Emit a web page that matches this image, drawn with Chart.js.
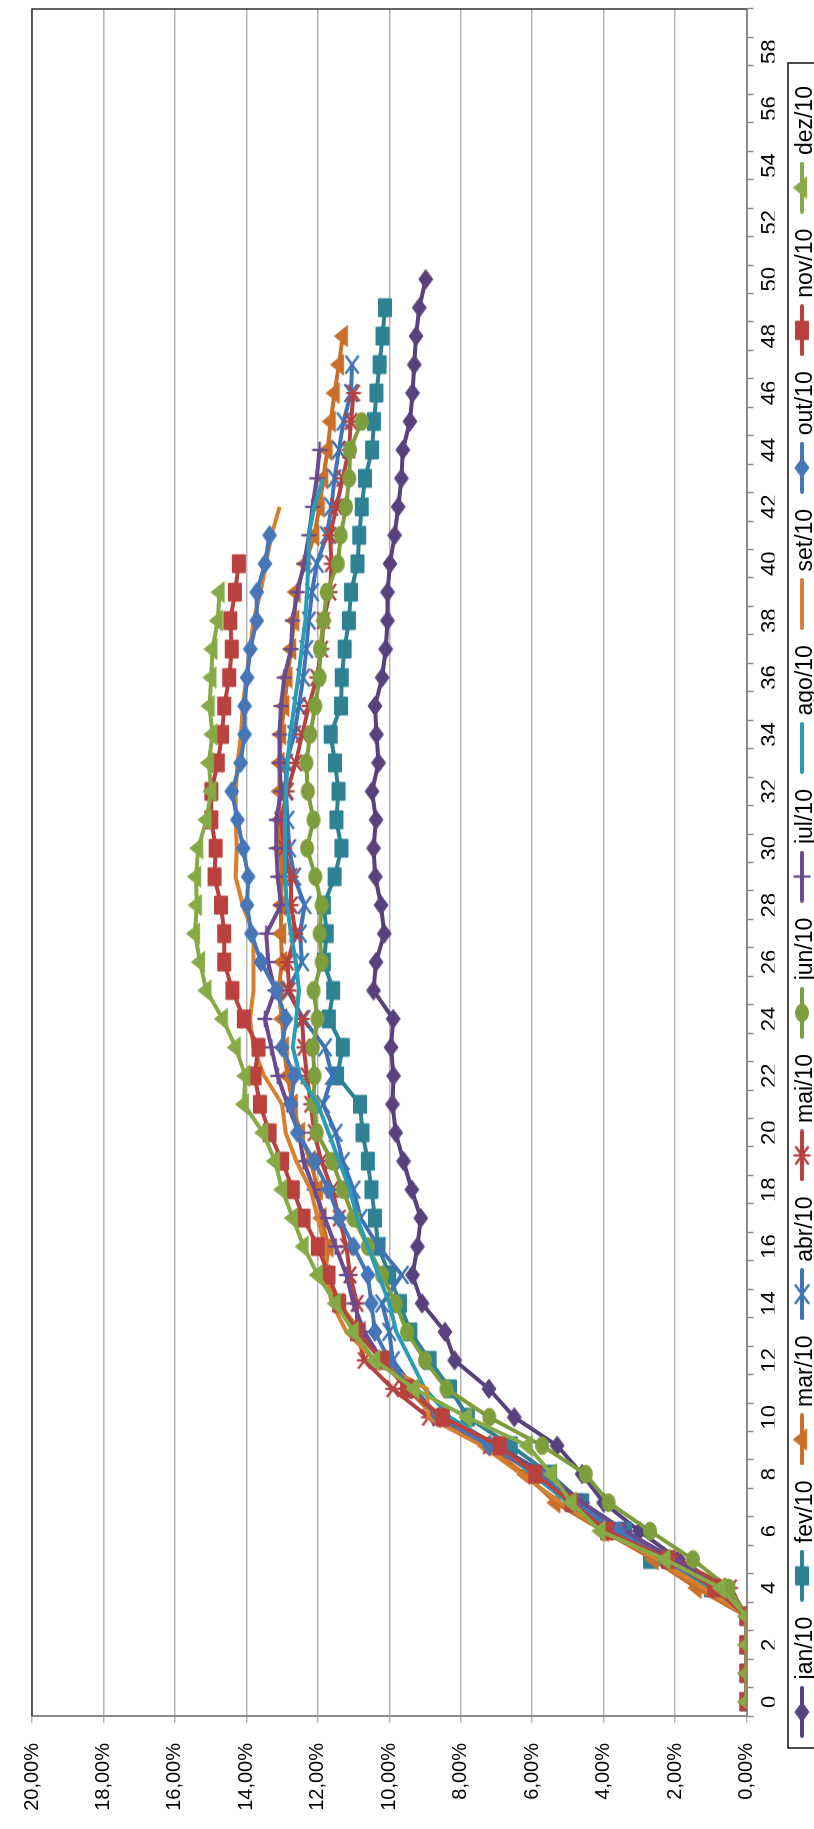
<!DOCTYPE html>
<html>
<head>
<meta charset="utf-8">
<script src="https://cdn.jsdelivr.net/npm/chart.js@4.4.1/dist/chart.umd.min.js"></script>
<style>
html, body { margin: 0; padding: 0; width: 814px; height: 1829px; overflow: hidden; background: #fff; }
/* chart is laid out landscape, then turned a quarter to the left */
#wrap { position: absolute; left: 0; top: 0; width: 1829px; height: 840px; transform-origin: 0 0; transform: matrix(0, -1, 1, 0, 0, 1829); }
</style>
</head>
<body>
<div id="wrap"><canvas id="chart" width="1829" height="840"></canvas></div>
<script>
const weeks = [0, 1, 2, 3, 4, 5, 6, 7, 8, 9, 10, 11, 12, 13, 14, 15, 16, 17, 18, 19,
    20, 21, 22, 23, 24, 25, 26, 27, 28, 29, 30, 31, 32, 33, 34, 35, 36, 37, 38, 39,
    40, 41, 42, 43, 44, 45, 46, 47, 48, 49, 50, 51, 52, 53, 54, 55, 56, 57, 58, 59];

const jan = [0, 0, 0, 0, 0.6, 1.9, 3.0, 4.0, 4.6, 5.3, 6.5, 7.21, 8.17, 8.44, 9.08, 9.35, 9.21, 9.12, 9.37, 9.6,
    9.82, 9.91, 9.88, 9.95, 9.89, 10.44, 10.37, 10.14, 10.23, 10.39, 10.44, 10.37, 10.48, 10.3, 10.36, 10.4, 10.2, 10.1, 10.05, 10.05,
    9.98, 9.85, 9.75, 9.66, 9.62, 9.42, 9.35, 9.3, 9.25, 9.16, 8.98];
const fev = [0, 0, 0, 0, 1.0, 2.7, 3.4, 4.6, 5.5, 6.6, 7.8, 8.3, 8.87, 9.41, 9.7, 10.0, 10.3, 10.4, 10.5, 10.6,
    10.75, 10.82, 11.46, 11.3, 11.69, 11.57, 11.83, 11.75, 11.83, 11.53, 11.34, 11.48, 11.42, 11.52, 11.64, 11.35, 11.33, 11.25, 11.13, 11.07,
    10.89, 10.84, 10.77, 10.68, 10.48, 10.43, 10.36, 10.27, 10.19, 10.12];
const mar = [0, 0, 0, 0, 1.4, 2.6, 4.0, 5.35, 6.2, 7.3, 8.7, 9.5, 10.2, 10.8, 11.4, 11.8, 11.7, 11.9, 12.0, 12.2,
    12.5, 12.7, 12.85, 12.95, 13.0, 13.1, 13.0, 13.03, 13.03, 13.0, 13.05, 13.07, 13.07, 13.07, 13.03, 12.94, 12.85, 12.75, 12.66, 12.62,
    12.35, 12.1, 11.95, 11.85, 11.73, 11.64, 11.53, 11.41, 11.3];
const abr = [0, 0, 0, 0, 0.8, 2.2, 3.5, 4.8, 5.8, 7.0, 8.6, 9.3, 9.9, 10.0, 10.2, 9.65, 10.3, 10.8, 11.0, 11.3,
    11.5, 11.85, 11.6, 11.8, 12.4, 12.85, 12.44, 12.5, 12.37, 12.66, 12.8, 12.85, 12.89, 12.89, 12.66, 12.53, 12.41, 12.32, 12.25, 12.16,
    12.03, 11.75, 11.62, 11.53, 11.41, 11.28, 11.07, 11.04];
const mai = [0, 0, 0, 0, 0.45, 2.0, 3.6, 4.9, 5.9, 7.2, 8.9, 9.9, 10.7, 10.9, 10.9, 11.1, 11.2, 11.4, 11.6, 11.9,
    12.1, 12.2, 12.3, 12.39, 12.44, 12.8, 12.85, 12.62, 12.75, 12.75, 12.94, 13.03, 12.86, 12.62, 12.44, 12.25, 12.03, 11.89, 11.84, 11.66,
    11.62, 11.66, 11.48, 11.3, 11.13, 11.07, 11.0];
const jun = [0, 0, 0, 0, 0.5, 1.5, 2.7, 3.86, 4.5, 5.72, 7.2, 8.4, 9.0, 9.5, 9.82, 10.2, 10.6, 11.0, 11.3, 11.6,
    12.03, 12.12, 12.09, 12.14, 12.01, 12.12, 11.89, 11.95, 11.89, 12.07, 12.3, 12.12, 12.28, 12.32, 12.21, 12.07, 11.95, 11.94, 11.84, 11.75,
    11.44, 11.36, 11.21, 11.12, 11.1, 10.77];
const jul = [0, 0, 0, 0, 0.8, 2.0, 3.4, 4.6, 5.6, 7.0, 8.6, 9.36, 10.2, 10.7, 11.0, 11.2, 11.5, 11.8, 12.1, 12.4,
    12.53, 12.85, 13.12, 13.3, 13.48, 13.2, 13.39, 13.44, 13.03, 13.12, 13.16, 13.16, 13.03, 13.07, 13.07, 13.03, 12.94, 12.75, 12.71, 12.57,
    12.39, 12.25, 12.15, 12.03, 11.95];
const ago = [0, 0, 0, 0, 1.0, 2.4, 3.8, 5.0, 6.0, 7.0, 8.3, 9.0, 9.4, 9.8, 10.0, 10.3, 10.6, 10.9, 11.1, 11.4,
    11.7, 12.0, 12.5, 12.7, 12.6, 12.53, 12.62, 12.75, 12.86, 12.92, 12.92, 12.92, 12.89, 12.85, 12.77, 12.66, 12.55, 12.45, 12.35, 12.3,
    12.27, 12.25, 12.1, 11.85];
const set = [0, 0, 0, 0, 1.2, 2.5, 3.9, 5.2, 6.3, 7.4, 8.9, 8.95, 10.4, 11.2, 11.6, 11.8, 11.8, 12.0, 12.2, 12.6,
    12.9, 13.0, 13.5, 13.8, 13.9, 13.8, 13.8, 13.8, 14.1, 14.3, 14.27, 14.3, 14.3, 14.25, 14.15, 14.1, 14.0, 13.9, 13.8, 13.6,
    13.45, 13.3, 13.07];
const out = [0, 0, 0, 0, 0.9, 2.3, 3.6, 4.9, 5.8, 7.2, 8.6, 9.4, 10.0, 10.4, 10.5, 10.6, 11.0, 11.4, 11.7, 12.1,
    12.57, 12.75, 12.66, 13.0, 12.89, 13.16, 13.59, 13.86, 13.98, 13.95, 14.09, 14.25, 14.41, 14.16, 14.05, 14.05, 13.98, 13.89, 13.71, 13.71,
    13.48, 13.35];
const nov = [0, 0, 0, 0, 0.9, 2.18, 3.9, 4.9, 5.91, 6.91, 8.5, 9.5, 10.2, 10.9, 11.4, 11.7, 12.0, 12.4, 12.7, 13.0,
    13.35, 13.62, 13.77, 13.66, 14.07, 14.39, 14.62, 14.62, 14.71, 14.89, 14.86, 14.98, 14.98, 14.8, 14.68, 14.62, 14.48, 14.41, 14.45, 14.32,
    14.21];
const dez = [0, 0, 0, 0, 0.72, 2.27, 4.09, 4.9, 5.45, 6.13, 7.82, 9.3, 10.4, 11.0, 11.5, 12.0, 12.4, 12.7, 13.0, 13.2,
    13.53, 14.07, 14.03, 14.3, 14.66, 15.12, 15.3, 15.44, 15.39, 15.41, 15.35, 15.12, 14.98, 15.05, 14.95, 15.03, 14.98, 14.95, 14.8, 14.75];

const names = ["jan/10", "fev/10", "mar/10", "abr/10", "mai/10", "jun/10", "jul/10", "ago/10", "set/10", "out/10", "nov/10", "dez/10"];
const values = [jan, fev, mar, abr, mai, jun, jul, ago, set, out, nov, dez];
const colors = ["#57427e", "#2e8294", "#c8702a", "#3f73b5", "#b54140", "#7e9e3e",
    "#6a4b91", "#2b9cb5", "#d7802f", "#4676b6", "#b9423f", "#86aa45"];
const markers = ["diamond", "square", "triangle", "x", "star", "circle", "plus", null, null, "diamond", "square", "triangle"];

const STRETCH = 1.38; // markers in the picture are drawn wider along the category axis

function shape(ctx, kind, r) {
    ctx.beginPath();
    if (kind === "diamond") {
        ctx.moveTo(0, -r); ctx.lineTo(r, 0); ctx.lineTo(0, r); ctx.lineTo(-r, 0); ctx.closePath();
    } else if (kind === "square") {
        ctx.rect(-r, -r, 2 * r, 2 * r);
    } else if (kind === "circle") {
        ctx.arc(0, 0, r, 0, Math.PI * 2);
    } else if (kind === "triangle") {
        ctx.moveTo(0, -r); ctx.lineTo(r * 0.9, r * 0.55); ctx.lineTo(-r * 0.9, r * 0.55); ctx.closePath();
    } else if (kind === "x") {
        ctx.moveTo(-r, -r); ctx.lineTo(r, r); ctx.moveTo(-r, r); ctx.lineTo(r, -r);
    } else if (kind === "star") {
        ctx.moveTo(-r * 0.8, -r * 0.8); ctx.lineTo(r * 0.8, r * 0.8); ctx.moveTo(-r * 0.8, r * 0.8); ctx.lineTo(r * 0.8, -r * 0.8);
        ctx.moveTo(0, -r); ctx.lineTo(0, r);
    } else if (kind === "plus") {
        ctx.moveTo(0, -r); ctx.lineTo(0, r); ctx.moveTo(-r * 0.8, 0); ctx.lineTo(r * 0.8, 0);
    }
}

const sizes = { diamond: 7, square: 6.5, circle: 6.5, triangle: 8.5, x: 6.5, star: 7.5, plus: 7.5 };

function drawMarker(ctx, kind, color, cx, cy) {
    const thin = kind === "x" || kind === "star" || kind === "plus";
    ctx.save();
    ctx.translate(cx, cy);
    ctx.scale(STRETCH, 1);
    shape(ctx, kind, sizes[kind]);
    ctx.restore();
    ctx.fillStyle = color;
    ctx.strokeStyle = color;
    ctx.lineWidth = thin ? 2.4 : 1;
    if (!thin) ctx.fill();
    ctx.stroke();
}

function markerImage(kind, color) {
    const c = document.createElement("canvas");
    c.width = 32;
    c.height = 24;
    drawMarker(c.getContext("2d"), kind, color, 16, 12);
    return c;
}

// legend sample: line with marker, drawn a little above the text middle like the original
function legendImage(kind, color) {
    const c = document.createElement("canvas");
    c.width = 52;
    c.height = 32;
    const ctx = c.getContext("2d");
    ctx.strokeStyle = color;
    ctx.lineWidth = 4;
    ctx.lineCap = "round";
    ctx.beginPath();
    ctx.moveTo(2, 12);
    ctx.lineTo(50, 12);
    ctx.stroke();
    if (kind) drawMarker(ctx, kind, color, 26, 12);
    return c;
}

const legendIcons = names.map((n, i) => legendImage(markers[i], colors[i]));

const datasets = names.map((n, i) => ({
    label: n,
    data: values[i],
    borderColor: colors[i],
    backgroundColor: colors[i],
    borderWidth: 4,
    pointStyle: markers[i] ? markerImage(markers[i], colors[i]) : "circle",
    pointRadius: markers[i] ? 5 : 0,
    order: names.length - i
}));

const frame = {
    id: "frame",
    afterLayout(chart) {
        // nudge the legend row to where the original sits
        chart.legend.left += 6;
        chart.legend.right += 6;
    },
    beforeDatasetsDraw(chart) {
        const { ctx, chartArea: a } = chart;
        ctx.save();
        ctx.strokeStyle = "#333";
        ctx.lineWidth = 1.5;
        ctx.beginPath();
        ctx.moveTo(a.left, a.top);
        ctx.lineTo(a.right, a.top);
        ctx.lineTo(a.right, a.bottom);
        ctx.stroke();
        ctx.restore();
    },
    afterDraw(chart) {
        const ctx = chart.ctx;
        ctx.save();
        ctx.strokeStyle = "#111";
        ctx.lineWidth = 1.5;
        ctx.strokeRect(81, 788, 1685, 80);
        ctx.restore();
    }
};

Chart.defaults.font.family = '"Liberation Sans", Arial, sans-serif';
Chart.defaults.color = "#000";

new Chart(document.getElementById("chart"), {
    type: "line",
    data: { labels: weeks, datasets },
    options: {
        responsive: false,
        animation: false,
        events: [],
        layout: { padding: { left: 0, right: 2, top: 13.5, bottom: 12.5 } },
        scales: {
            x: {
                offset: true,
                grid: { offset: true, drawOnChartArea: false, drawTicks: true, tickLength: 7, tickColor: "#8a8a8a", tickWidth: 1.5 },
                border: { color: "#8a8a8a", width: 2 },
                ticks: {
                    autoSkip: false, maxRotation: 0, padding: 3,
                    font: { size: 22 },
                    callback: (v, i) => (i % 2 === 0 ? weeks[i] : "")
                },
                afterFit: s => { s.height = 27.9; }
            },
            y: {
                min: 0, max: 20,
                grid: { color: "#b5b5b5", lineWidth: 1.5, tickLength: 7 },
                border: { color: "#8a8a8a", width: 2 },
                ticks: {
                    stepSize: 2, padding: 20,
                    font: { size: 20 },
                    callback: v => v.toFixed(2).replace(".", ",") + "%"
                },
                afterFit: s => { s.width = 113; }
            }
        },
        plugins: {
            tooltip: { enabled: false },
            legend: {
                position: "bottom",
                labels: {
                    usePointStyle: true,
                    pointStyleWidth: 42,
                    padding: 20.1,
                    font: { size: 23 },
                    generateLabels: chart => chart.data.datasets.map((ds, i) => ({
                        text: ds.label,
                        datasetIndex: i,
                        pointStyle: legendIcons[i],
                        fillStyle: ds.borderColor,
                        strokeStyle: ds.borderColor,
                        fontColor: "#000",
                        lineWidth: 0,
                        hidden: false
                    }))
                }
            }
        }
    },
    plugins: [frame]
});
</script>
</body>
</html>
